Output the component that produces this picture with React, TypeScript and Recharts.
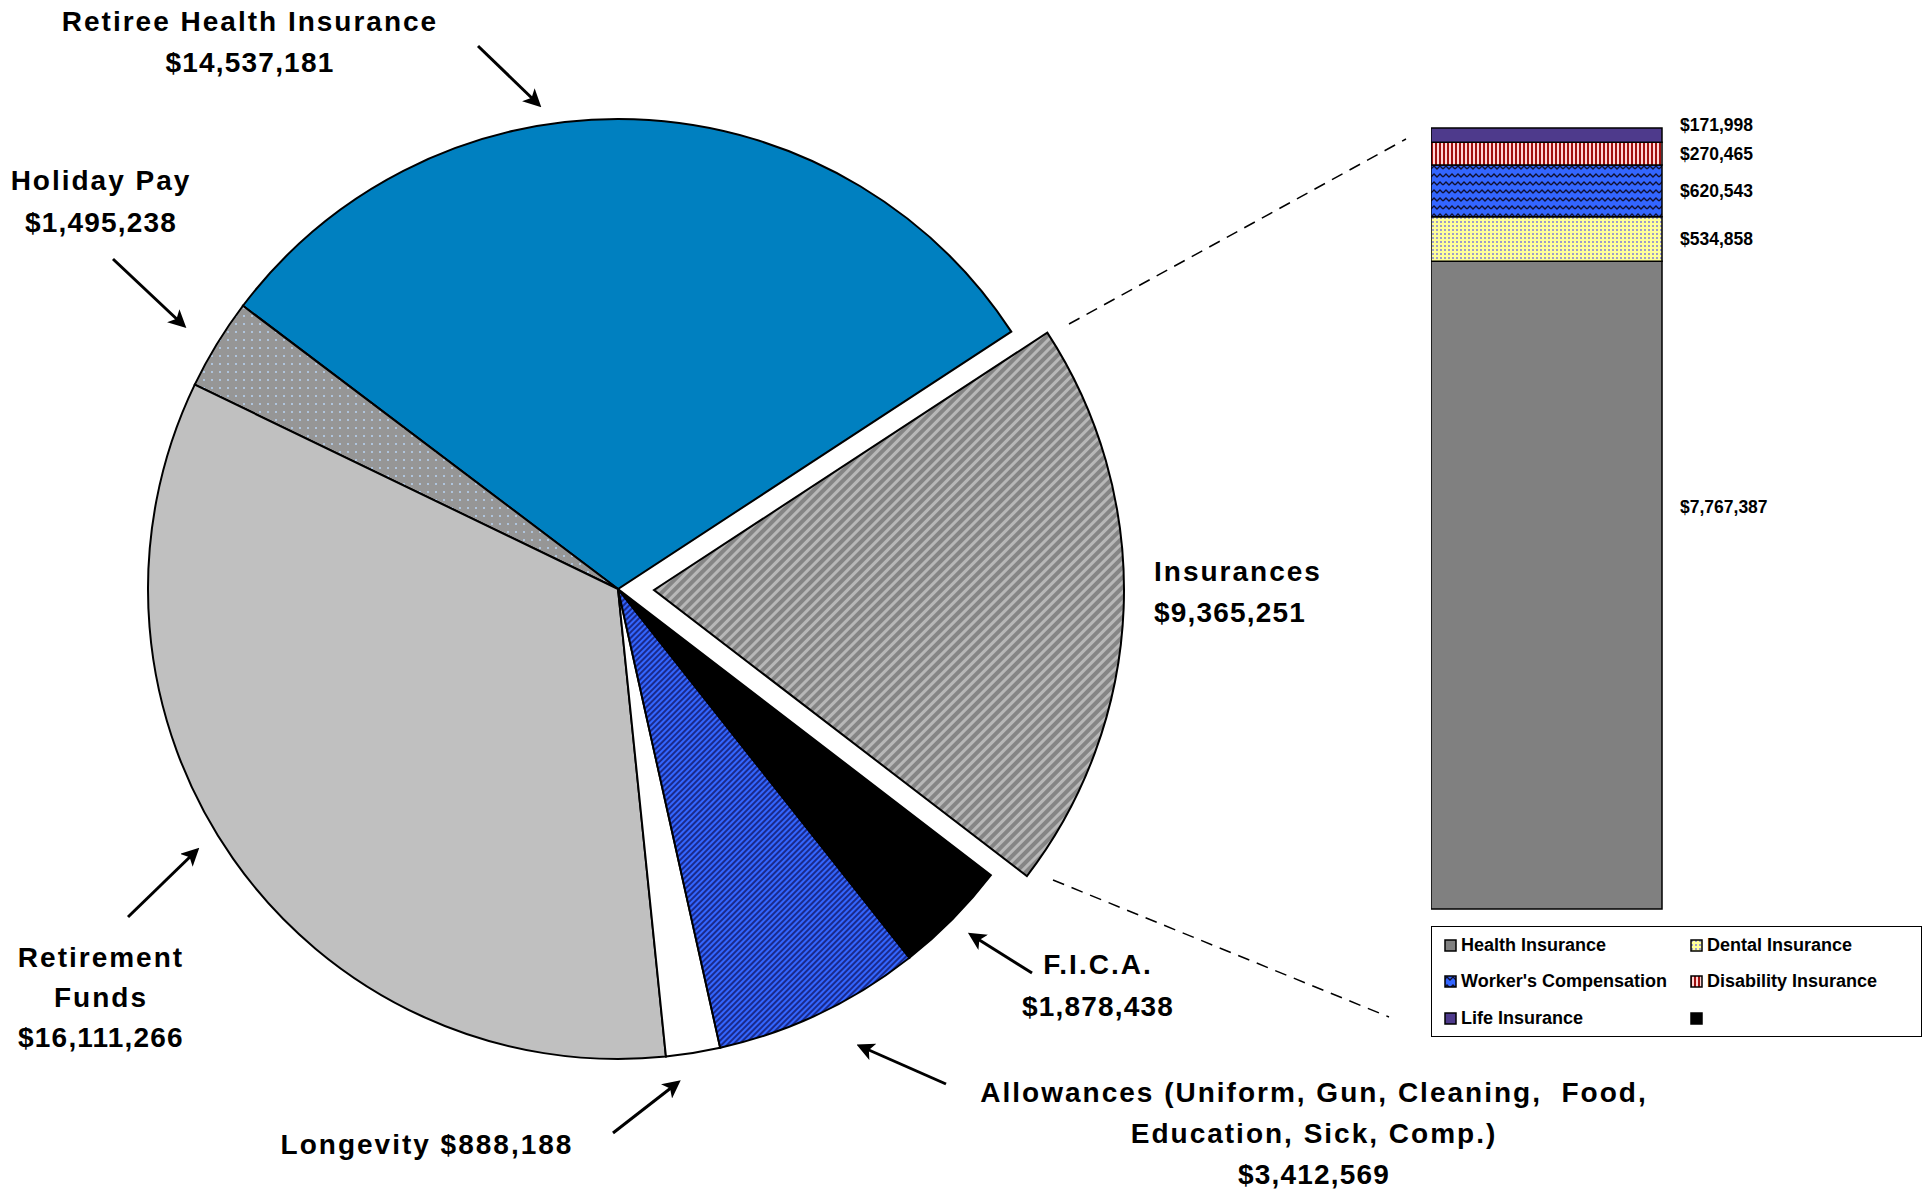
import { PieChart, Pie, Cell, BarChart, Bar, XAxis, YAxis, LabelList } from "recharts";

// pie: personnel benefit costs
const sliceNames = [
  "Retiree Health Insurance",
  "Holiday Pay",
  "Retirement Funds",
  "Longevity",
  "Allowances",
  "F.I.C.A.",
  "Insurances",
];
const sliceValues = [14537181, 1495238, 16111266, 888188, 3412569, 1878438, 9365251];
const sliceLabelLines = [
  ["Retiree Health Insurance"],
  ["Holiday Pay"],
  ["Retirement", "Funds"],
  ["Longevity"],
  ["Allowances (Uniform, Gun, Cleaning,  Food,", "Education, Sick, Comp.)"],
  ["F.I.C.A."],
  ["Insurances"],
];

// stacked bar: breakdown of Insurances
const insKeys = ["health", "dental", "workers", "disability", "life", "other"];
const insNames = [
  "Health Insurance",
  "Dental Insurance",
  "Worker's Compensation",
  "Disability Insurance",
  "Life Insurance",
  "",
];
const insValues = [7767387, 534858, 620543, 270465, 171998, 0];

const FONT = "'Liberation Sans', Arial, sans-serif";
const fmt = (v: number) => "$" + v.toLocaleString("en-US");

const sliceFills = [
  "#0080C0",
  "url(#pDots)",
  "#C0C0C0",
  "#FFFFFF",
  "url(#pBlueStripe)",
  "#000000",
  "url(#pGrayStripe)",
];
const insFills = [
  "#808080",
  "url(#pDental)",
  "url(#pWave)",
  "url(#pRedStripe)",
  "#4E3A8C",
  "#000000",
];

// label placement (annotation layout, page pixels)
const labelLayout = [
  { x: 250, y: 31, anchor: "middle", gap: 41, arrow: [478, 46, 537, 103] },
  { x: 101, y: 190, anchor: "middle", gap: 42, arrow: [113, 259, 182, 324] },
  { x: 101, y: 967, anchor: "middle", gap: 40, arrow: [128, 917, 195, 852] },
  { x: 427, y: 1154, anchor: "middle", gap: 0, inline: true, arrow: [613, 1133, 676, 1084] },
  { x: 1314, y: 1102, anchor: "middle", gap: 41, arrow: [946, 1084, 862, 1047] },
  { x: 1098, y: 974, anchor: "middle", gap: 42, arrow: [1032, 973, 973, 936] },
  { x: 1154, y: 581, anchor: "start", gap: 41 },
];
const barLabelDy = [-78, 0, 0, 0, -10, 0];

const pieData = sliceNames.map((name, i) => ({ name, value: sliceValues[i] }));
const total = insValues.reduce((a, b) => a + b, 0);
const barData = [
  insKeys.reduce((row: any, k, i) => {
    row[k] = insValues[i];
    return row;
  }, { name: "Insurances" }),
];

const renderPieLabel = (props: any) => {
  const i = props.index;
  const L: any = labelLayout[i];
  const lines = sliceLabelLines[i];
  const value = fmt(sliceValues[i]);
  const texts = L.inline ? [lines[0] + " " + value] : [...lines, value];
  return (
    <g key={"lbl" + i}>
      {texts.map((t, j) => (
        <text
          key={j}
          x={L.x}
          y={L.y + j * L.gap}
          textAnchor={L.anchor}
          fontFamily={FONT}
          fontWeight="bold"
          fontSize={28}
          letterSpacing={t.startsWith("$") ? 1.2 : 2}
          fill="#000"
          style={{ whiteSpace: "pre" }}
        >
          {t}
        </text>
      ))}
      {L.arrow && (
        <line
          x1={L.arrow[0]}
          y1={L.arrow[1]}
          x2={L.arrow[2]}
          y2={L.arrow[3]}
          stroke="#000"
          strokeWidth={3}
          markerEnd="url(#arrowHead)"
        />
      )}
      {i === 6 && (
        <g stroke="#000" strokeWidth={1.5} strokeDasharray="12 8">
          <line x1={1069} y1={324} x2={1406} y2={139} />
          <line x1={1053} y1={880} x2={1389} y2={1017} />
        </g>
      )}
    </g>
  );
};

const renderBarLabel = (p: any, i: number) => {
  if (!insValues[i]) return null;
  return (
    <text
      x={p.x + p.width + 18}
      y={p.y + p.height / 2 + 6 + barLabelDy[i]}
      fontFamily={FONT}
      fontWeight="bold"
      fontSize={17.5}
      fill="#000"
    >
      {fmt(insValues[i])}
    </text>
  );
};

export default function App() {
  return (
    <div style={{ position: "absolute", left: 0, top: 0, width: 1931, height: 1193, background: "#fff" }}>
      <div style={{ position: "absolute", left: 0, top: 0 }}>
        <PieChart width={1931} height={1193} margin={{ top: 0, right: 0, bottom: 0, left: 0 }}>
          <defs>
            <marker id="arrowHead" markerWidth="6" markerHeight="6" refX="4" refY="3" orient="auto" markerUnits="strokeWidth">
              <path d="M0,0 L6,3 L0,6 L1.5,3 z" fill="#000" />
            </marker>
            <pattern id="pDots" width="8" height="8" patternUnits="userSpaceOnUse">
              <rect width="8" height="8" fill="#969696" />
              <circle cx="4" cy="4" r="1" fill="#B8D4F4" />
            </pattern>
            <pattern id="pGrayStripe" width="7" height="7" patternUnits="userSpaceOnUse" patternTransform="rotate(45)">
              <rect width="7" height="7" fill="#858585" />
              <rect width="3" height="7" fill="#B8B8B8" />
            </pattern>
            <pattern id="pBlueStripe" width="4" height="4" patternUnits="userSpaceOnUse" patternTransform="rotate(45)">
              <rect width="4" height="4" fill="#3366FF" />
              <rect width="2" height="4" fill="#1A2A8C" />
            </pattern>
          </defs>
          <Pie
            data={pieData}
            dataKey="value"
            nameKey="name"
            cx={618}
            cy={589}
            outerRadius={470}
            startAngle={33.2}
            endAngle={393.2}
            stroke="#000"
            strokeWidth={2}
            label={renderPieLabel}
            labelLine={false}
            isAnimationActive={false}
          >
            {pieData.map((d, i) => (
              <Cell
                key={d.name}
                fill={i === 6 ? "none" : sliceFills[i]}
                stroke={i === 6 ? "none" : "#000"}
              />
            ))}
          </Pie>
          <Pie
            data={pieData}
            dataKey="value"
            nameKey="name"
            cx={654}
            cy={590}
            outerRadius={470}
            startAngle={33.2}
            endAngle={393.2}
            strokeWidth={2}
            isAnimationActive={false}
          >
            {pieData.map((d, i) => (
              <Cell
                key={d.name}
                fill={i === 6 ? sliceFills[i] : "none"}
                stroke={i === 6 ? "#000" : "none"}
              />
            ))}
          </Pie>
        </PieChart>
      </div>

      <div style={{ position: "absolute", left: 1431, top: 100 }}>
        <BarChart
          width={500}
          height={840}
          data={barData}
          barCategoryGap={0}
          margin={{ top: 28, right: 269, bottom: 31, left: 0 }}
        >
          <defs>
            <pattern id="pDental" width="4" height="4" patternUnits="userSpaceOnUse">
              <rect width="4" height="4" fill="#FFFF99" />
              <circle cx="2" cy="2" r="0.9" fill="#7070E0" />
            </pattern>
            <pattern id="pWave" width="12" height="8" patternUnits="userSpaceOnUse">
              <rect width="12" height="8" fill="#3366FF" />
              <path d="M0,5 L3,2 L6,5 L9,2 L12,5" fill="none" stroke="#101030" strokeWidth="1.4" />
            </pattern>
            <pattern id="pRedStripe" width="4" height="4" patternUnits="userSpaceOnUse">
              <rect width="4" height="4" fill="#FFD6D6" />
              <rect width="2" height="4" fill="#A01010" />
            </pattern>
          </defs>
          <XAxis dataKey="name" hide />
          <YAxis hide domain={[0, total]} />
          {insKeys.map((k, i) => (
            <Bar
              key={k}
              dataKey={k}
              name={insNames[i]}
              stackId="ins"
              fill={insFills[i]}
              stroke="#000"
              strokeWidth={1.5}
              isAnimationActive={false}
            >
              <LabelList content={(p: any) => renderBarLabel(p, i)} />
            </Bar>
          ))}
        </BarChart>
      </div>

      <div
        style={{
          position: "absolute",
          left: 1431,
          top: 926,
          width: 489,
          height: 109,
          border: "1.5px solid #000",
          fontFamily: FONT,
          fontWeight: "bold",
          fontSize: 18,
        }}
      >
        {insNames.map((n, i) => (
          <div
            key={insKeys[i]}
            style={{
              position: "absolute",
              left: i % 2 === 0 ? 12 : 258,
              top: 8 + Math.floor(i / 2) * 36.5,
              display: "flex",
              alignItems: "center",
              height: 20,
              whiteSpace: "nowrap",
            }}
          >
            <svg width={13} height={13} style={{ marginRight: 4 }}>
              <rect x={1} y={1} width={11} height={11} fill={insFills[i]} stroke="#000" strokeWidth={1.5} />
            </svg>
            {n}
          </div>
        ))}
      </div>
    </div>
  );
}
